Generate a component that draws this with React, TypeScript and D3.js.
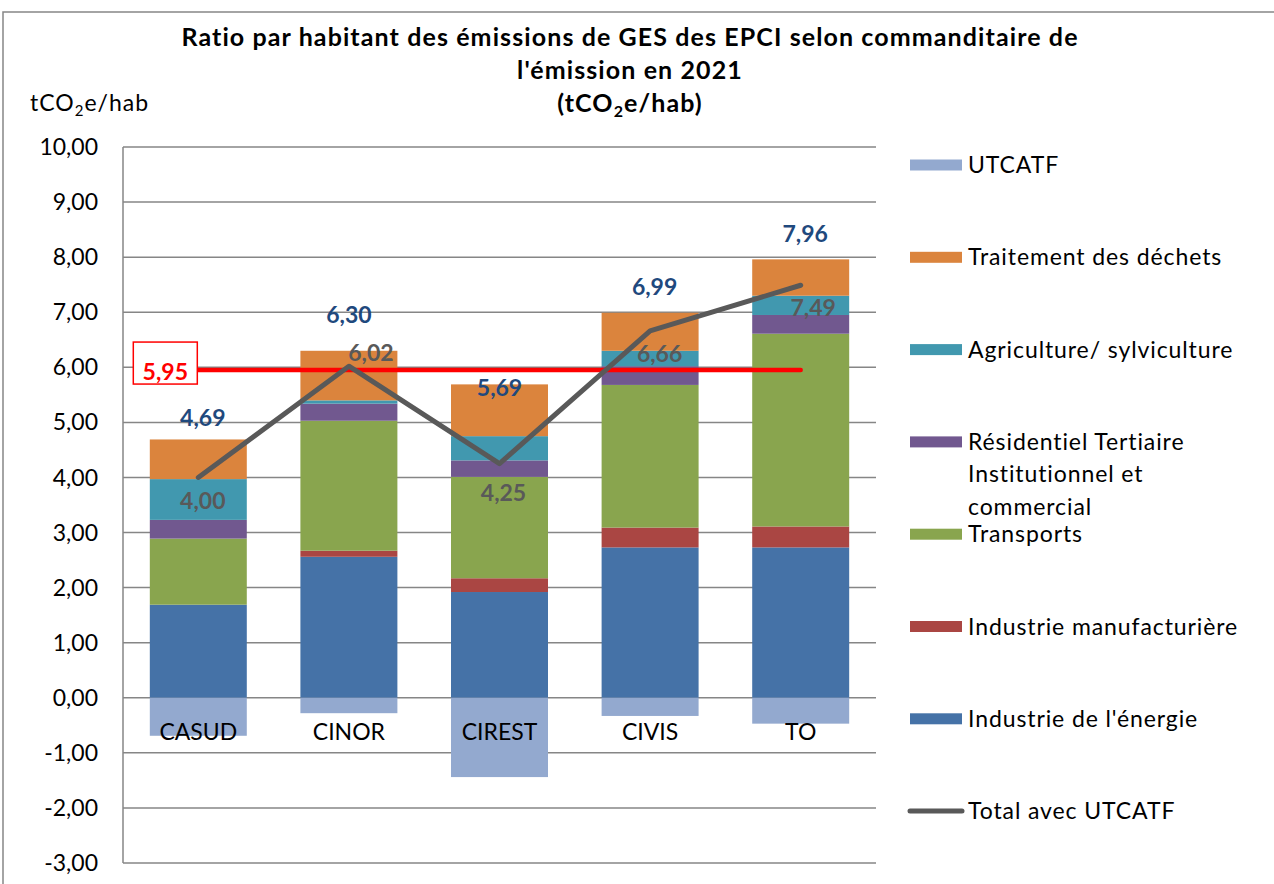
import React from "react";
import * as d3 from "d3";

const categories = ["CASUD", "CINOR", "CIREST", "CIVIS", "TO"];
const energie = [1.69, 2.56, 1.92, 2.73, 2.73];
const manufacturiere = [0.0, 0.11, 0.25, 0.36, 0.38];
const transports = [1.2, 2.36, 1.84, 2.59, 3.5];
const residentiel = [0.34, 0.31, 0.3, 0.34, 0.34];
const agriculture = [0.74, 0.06, 0.44, 0.28, 0.35];
const dechets = [0.72, 0.9, 0.94, 0.69, 0.66];
const utcatf = [-0.69, -0.28, -1.44, -0.33, -0.47];
const totalAvecUtcatf = [4.0, 6.02, 4.25, 6.66, 7.49];
const moyenne = 5.95;
const yTicks = [-3, -2, -1, 0, 1, 2, 3, 4, 5, 6, 7, 8, 9, 10];

const positiveSeries = [
  { name: "Industrie de l'énergie", values: energie, color: "#4572A7" },
  { name: "Industrie manufacturière", values: manufacturiere, color: "#AA4643" },
  { name: "Transports", values: transports, color: "#89A54E" },
  { name: "Résidentiel Tertiaire Institutionnel et commercial", values: residentiel, color: "#71588F" },
  { name: "Agriculture/ sylviculture", values: agriculture, color: "#4198AF" },
  { name: "Traitement des déchets", values: dechets, color: "#DB843D" },
];
const utcatfColor = "#93A9CF";

const legendItems = [
  { lines: ["UTCATF"], color: utcatfColor, type: "rect" },
  { lines: ["Traitement des déchets"], color: "#DB843D", type: "rect" },
  { lines: ["Agriculture/ sylviculture"], color: "#4198AF", type: "rect" },
  { lines: ["Résidentiel Tertiaire", "Institutionnel et", "commercial"], color: "#71588F", type: "rect" },
  { lines: ["Transports"], color: "#89A54E", type: "rect" },
  { lines: ["Industrie manufacturière"], color: "#AA4643", type: "rect" },
  { lines: ["Industrie de l'énergie"], color: "#4572A7", type: "rect" },
  { lines: ["Total avec UTCATF"], color: "#595959", type: "line" },
];

// label placement offsets (px), as in the reference
const topLabelOffsets = [[4.5, -13], [0, -28], [0, 12], [4.5, -18], [4.5, -17]];
const totalLabelOffsets = [[4.5, 32], [22, -5], [4, 37], [9.5, 31], [12.5, 30.5]];

const FONT = "Lato, 'Open Sans', sans-serif";
const fmt = (v: number) => v.toFixed(2).replace(".", ",");

export default function App() {
  const W = 1274, H = 884;
  const plot = { left: 123, right: 876, top: 147, bottom: 863 };
  const x = d3.scaleBand<string>().domain(categories).range([plot.left, plot.right]).paddingInner(0.356).paddingOuter(0.178);
  const y = d3.scaleLinear().domain([-3, 10]).range([plot.bottom, plot.top]);
  const cx = (c: string) => (x(c) as number) + x.bandwidth() / 2;

  const stackData = categories.map((c, i) => {
    const o: any = { cat: c };
    positiveSeries.forEach((s) => (o[s.name] = s.values[i]));
    return o;
  });
  const stacked = d3.stack<any>().keys(positiveSeries.map((s) => s.name))(stackData);
  const tops = categories.map((_, i) => d3.sum(positiveSeries, (s) => s.values[i]));

  const totalLine = d3.line<number>().x((_, i) => cx(categories[i])).y((d) => y(d));
  const avgLine = d3.line<number>().x((_, i) => cx(categories[i])).y((d) => y(d));
  const avgValues = categories.map(() => moyenne);

  const legendX = 910;
  const legendTop = 165;
  const legendStep = 92.3;

  return (
    <div style={{ position: "absolute", left: 0, top: 0 }}>
      <svg width={W} height={H} style={{ display: "block", background: "#fff" }} fontFamily={FONT}>
        <rect x={3} y={12} width={W + 10} height={H + 10} fill="#fff" stroke="#868686" strokeWidth={1.5} />
        {/* title */}
        <g fontWeight="bold" fontSize={25} letterSpacing={1.1} fill="#000" textAnchor="middle">
          <text x={630} y={46}>
            Ratio par habitant des émissions de GES des EPCI selon commanditaire de
          </text>
          <text x={630} y={79}>
            l'émission en 2021
          </text>
          <text x={630} y={112}>
            (tCO<tspan fontSize={16} dy={5}>2</tspan><tspan dy={-5}>e/hab)</tspan>
          </text>
        </g>
        <text x={30} y={111} fontSize={23} letterSpacing={1} fill="#000">
          tCO<tspan fontSize={15} dy={5}>2</tspan><tspan dy={-5}>e/hab</tspan>
        </text>

        {/* gridlines */}
        {yTicks.map((t) => (
          <line key={t} x1={plot.left} x2={plot.right} y1={y(t)} y2={y(t)} stroke="#868686" strokeWidth={1.5} />
        ))}
        <line x1={plot.left} x2={plot.left} y1={plot.top} y2={plot.bottom} stroke="#868686" strokeWidth={1.5} />
        {yTicks.map((t) => (
          <text key={"l" + t} x={98} y={y(t)} dy="0.35em" textAnchor="end" fontSize={23} fill="#000">
            {fmt(t)}
          </text>
        ))}

        {/* bars */}
        {stacked.map((layer, si) => (
          <g key={layer.key} fill={positiveSeries[si].color}>
            {layer.map((d, i) =>
              d[1] - d[0] > 0 ? (
                <rect key={i} x={x(categories[i])} width={x.bandwidth()} y={y(d[1])} height={y(d[0]) - y(d[1])} />
              ) : null
            )}
          </g>
        ))}
        <g fill={utcatfColor}>
          {utcatf.map((v, i) => (
            <rect key={i} x={x(categories[i])} width={x.bandwidth()} y={y(0)} height={y(v) - y(0)} />
          ))}
        </g>

        {/* category labels */}
        {categories.map((c) => (
          <text key={c} x={cx(c)} y={740} textAnchor="middle" fontSize={23} fill="#000">
            {c}
          </text>
        ))}

        {/* average line */}
        <path d={avgLine(avgValues) as string} fill="none" stroke="#FF0000" strokeWidth={4.5} strokeLinecap="round" />
        {/* total line */}
        <path d={totalLine(totalAvecUtcatf) as string} fill="none" stroke="#595959" strokeWidth={5} strokeLinecap="round" strokeLinejoin="round" />

        {/* top labels */}
        {tops.map((v, i) => (
          <text key={"t" + i} x={cx(categories[i]) + topLabelOffsets[i][0]} y={y(v) + topLabelOffsets[i][1]} textAnchor="middle" fontWeight="bold" fontSize={23} fill="#1F497D">
            {fmt(v)}
          </text>
        ))}
        {totalAvecUtcatf.map((v, i) => (
          <text key={"u" + i} x={cx(categories[i]) + totalLabelOffsets[i][0]} y={y(v) + totalLabelOffsets[i][1]} textAnchor="middle" fontWeight="bold" fontSize={23} fill="#595959">
            {fmt(v)}
          </text>
        ))}
        {/* average label */}
        <rect x={cx(categories[0]) - 65} y={y(moyenne) - 28} width={64} height={42} fill="#fff" stroke="#FF0000" strokeWidth={1.5} />
        <text x={cx(categories[0]) - 33} y={y(moyenne) + 2} dy="0.35em" textAnchor="middle" fontWeight="bold" fontSize={23} fill="#FF0000">
          {fmt(moyenne)}
        </text>

        {/* legend */}
        {legendItems.map((it, i) => {
          const yy = legendTop + i * legendStep;
          return (
            <g key={i}>
              {it.type === "rect" ? (
                <rect x={legendX} y={yy - 5.5} width={52} height={11} fill={it.color} />
              ) : (
                <line x1={legendX} x2={legendX + 52} y1={yy} y2={yy} stroke={it.color} strokeWidth={5} strokeLinecap="round" />
              )}
              {it.lines.map((l, li) => (
                <text key={li} x={968} y={yy + li * 32.5} dy="0.35em" fontSize={23} letterSpacing={0.9} fill="#000">
                  {l}
                </text>
              ))}
            </g>
          );
        })}
      </svg>
    </div>
  );
}
